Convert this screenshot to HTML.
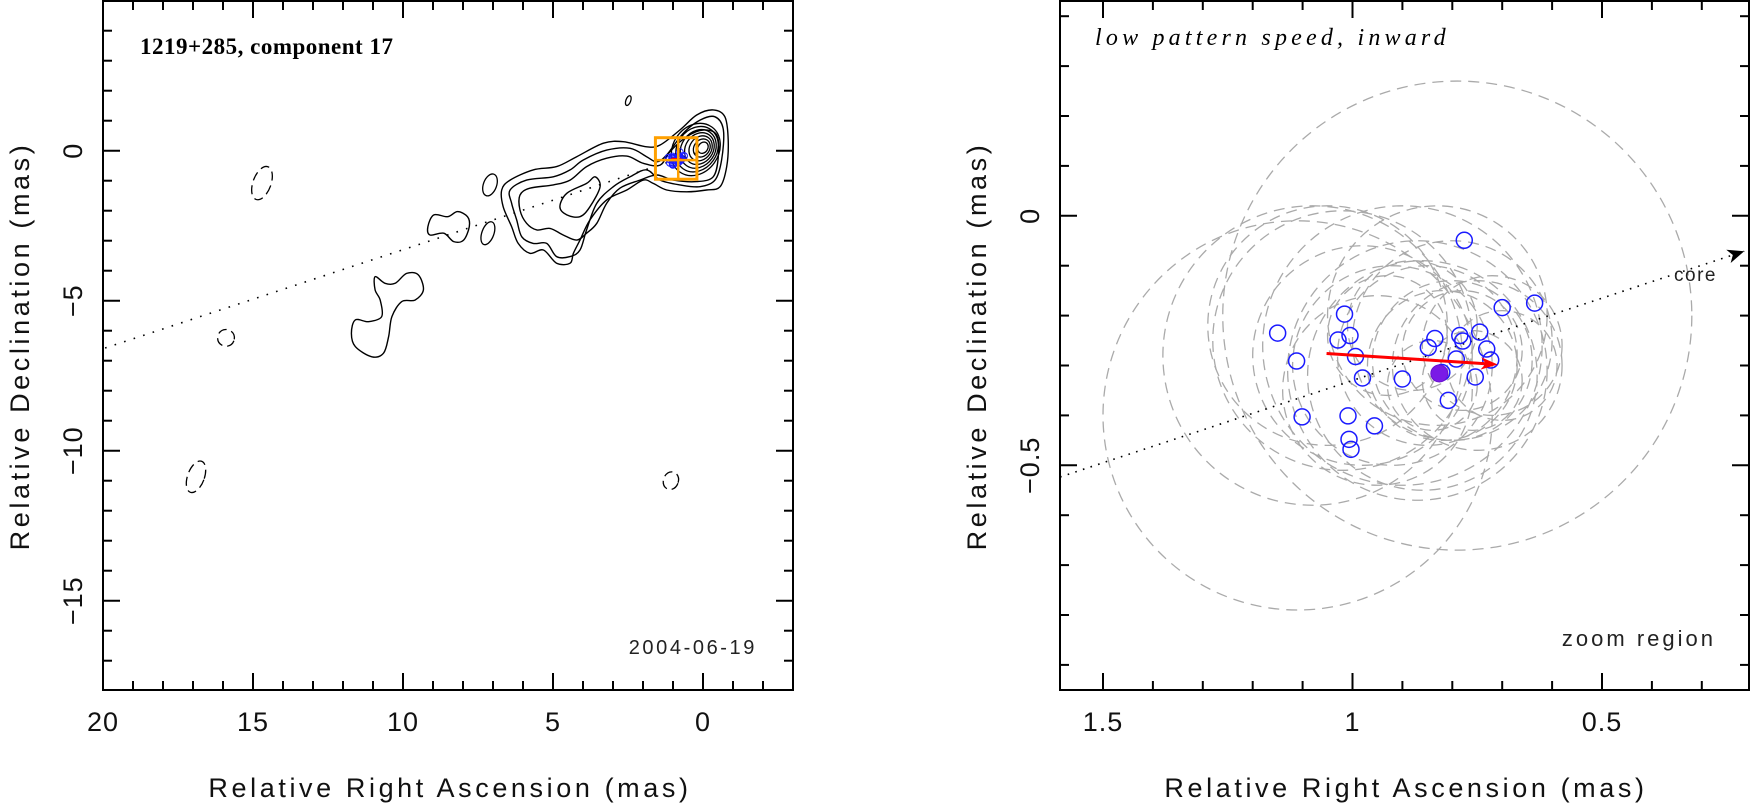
<!DOCTYPE html>
<html><head><meta charset="utf-8"><style>
html,body{margin:0;padding:0;background:#fff;}
svg{display:block;font-family:"Liberation Sans",sans-serif;}
</style></head><body>
<svg id="chart" width="1751" height="809" viewBox="0 0 1751 809" xmlns="http://www.w3.org/2000/svg">
<g id="left"></g>
<g id="right"></g>
</svg>
<script>
// ---------- data ----------
const jetSlope = -0.33;
const compRA = [1.150,1.112,1.101,1.029,1.016,1.005,0.994,0.980,1.009,1.007,1.003,0.956,0.900,0.848,0.835,0.821,0.808,0.792,0.779,0.776,0.745,0.731,0.754,0.723,0.700,0.635,0.785];
const compDec = [-0.235,-0.291,-0.403,-0.249,-0.197,-0.240,-0.282,-0.325,-0.401,-0.448,-0.468,-0.421,-0.327,-0.264,-0.246,-0.314,-0.370,-0.287,-0.251,-0.049,-0.233,-0.267,-0.323,-0.289,-0.184,-0.175,-0.240];
const meanPos = [0.826,-0.316];
const arrowStart = [1.052,-0.276];
const arrowEnd = [0.709,-0.298];
const errRA  = [0.79,1.11,1.08,1.02,0.98,1.05,0.92,0.85,0.82,0.78,0.80,0.75,0.86,0.88,0.76,0.83,0.95,0.72,0.90,0.84,0.80,0.93,0.70,0.87];
const errDec = [-0.20,-0.40,-0.28,-0.25,-0.28,-0.22,-0.30,-0.28,-0.30,-0.27,-0.25,-0.30,-0.32,-0.22,-0.33,-0.20,-0.35,-0.26,-0.26,-0.34,-0.29,-0.24,-0.30,-0.31];
const errR   = [0.47,0.39,0.30,0.26,0.22,0.24,0.20,0.18,0.15,0.12,0.20,0.17,0.23,0.13,0.10,0.22,0.19,0.14,0.28,0.09,0.16,0.12,0.11,0.26];
const contour1 = [[6.71,-1.31],[6.43,-0.98],[5.66,-0.64],[4.88,-0.53],[4.21,-0.20],[3.32,0.25],[2.66,0.30],[1.88,0.13],[1.43,0.19],[0.77,0.69],[0.21,1.19],[-0.34,1.36],[-0.73,1.13],[-0.84,0.36],[-0.79,-0.53],[-0.57,-1.20],[-0.12,-1.31],[0.54,-1.37],[1.21,-1.31],[1.66,-1.09],[1.99,-0.98],[2.54,-1.31],[3.21,-1.64],[3.77,-2.31],[4.10,-2.98],[4.32,-3.42],[4.43,-3.75],[4.88,-3.75],[5.32,-3.31],[5.77,-3.42],[6.16,-3.09],[6.38,-2.53],[6.66,-1.87]];
const contour2 = [[6.43,-1.31],[5.88,-0.98],[4.99,-0.87],[4.43,-0.64],[3.99,-0.31],[3.21,0.02],[2.43,0.08],[1.88,-0.20],[1.54,-0.37],[1.21,-0.14],[0.66,0.58],[0.10,1.02],[-0.40,1.13],[-0.68,0.69],[-0.62,-0.31],[-0.40,-0.98],[0.10,-1.20],[0.77,-1.14],[1.43,-0.98],[1.88,-0.64],[2.43,-0.87],[2.99,-1.20],[3.54,-1.75],[3.88,-2.64],[4.10,-3.31],[4.43,-3.53],[4.88,-3.53],[5.21,-3.09],[5.66,-3.09],[6.04,-2.87],[6.21,-2.31],[6.38,-1.75]];
const contour3 = [[6.10,-1.48],[5.77,-1.25],[4.99,-1.14],[4.43,-0.98],[3.88,-0.53],[3.21,-0.25],[2.54,-0.18],[1.99,-0.42],[1.43,-0.48],[1.10,-0.03],[0.54,0.47],[-0.01,0.69],[-0.46,0.52],[-0.51,-0.20],[-0.34,-0.87],[0.21,-1.03],[0.99,-0.98],[1.54,-0.81],[2.10,-0.98],[2.77,-1.25],[3.21,-1.75],[3.54,-2.42],[3.88,-2.75],[4.21,-2.98],[4.66,-2.81],[5.10,-2.59],[5.54,-2.64],[5.88,-2.42],[6.10,-1.98]];
const contour4 = [[4.77,-1.87],[4.54,-1.42],[3.88,-1.09],[3.60,-0.87],[3.43,-1.20],[3.77,-1.87],[4.10,-2.20],[4.54,-2.14]];
const blobA = [[9.17,-2.53],[8.97,-2.14],[8.51,-2.20],[8.18,-2.03],[7.85,-2.20],[7.79,-2.53],[7.98,-2.98],[8.31,-3.03],[8.64,-2.75],[9.10,-2.81]];
const blobB = [[10.93,-4.2],[10.6,-4.42],[10.26,-4.42],[9.88,-4.09],[9.49,-4.14],[9.32,-4.64],[9.6,-4.98],[10.04,-5.03],[10.37,-5.53],[10.48,-6.2],[10.65,-6.75],[11.04,-6.87],[11.59,-6.53],[11.72,-6.09],[11.59,-5.64],[11.15,-5.7],[10.71,-5.53],[10.76,-4.98],[10.93,-4.64]];
const coreLevels = [0,1,2,3,4,5,6];
const islandRA  = [2.49,7.1,7.17,14.7,15.9,16.9,1.07];
const islandDec = [1.67,-1.14,-2.75,-1.08,-6.24,-10.87,-11.0];
const islandRx  = [0.08,0.22,0.2,0.3,0.28,0.28,0.25];
const islandRy  = [0.17,0.38,0.4,0.58,0.28,0.55,0.3];
const islandNeg = [0,0,0,1,1,1,1];
const lXMajor = [20,15,10,5,0];
const lXLabels = ["20","15","10","5","0"];
const lYMajor = [0,-5,-10,-15];
const lYLabels = ["0","\u22125","\u221210","\u221215"];
const rXMajor = [1.5,1,0.5];
const rXLabels = ["1.5","1","0.5"];
const rYMajor = [0,-0.5];
const rYLabels = ["0","\u22120.5"];

// ---------- axes ----------
const L = {x0:103,x1:793,y0:1,y1:690};
const R = {x0:1060,x1:1749,y0:1,y1:690};
const lx = ra => 703 - 30*ra;
const ly = d => 150.7 - 30*d;
const rx = ra => 1103 + (1.5-ra)*499;
const ry = d => 215.8 - 499*d;

const NS="http://www.w3.org/2000/svg";
function mk(tag, attrs, parent){const e=document.createElementNS(NS,tag);for(const k in attrs)e.setAttribute(k,attrs[k]);parent.appendChild(e);return e;}
const gl=document.getElementById('left'), gr=document.getElementById('right');

function smooth(pts){
  const n=pts.length;let d=`M${pts[0][0]},${pts[0][1]}`;
  for(let i=0;i<n;i++){const p0=pts[(i-1+n)%n],p1=pts[i],p2=pts[(i+1)%n],p3=pts[(i+2)%n];
    d+=` C${p1[0]+(p2[0]-p0[0])/6},${p1[1]+(p2[1]-p0[1])/6} ${p2[0]-(p3[0]-p1[0])/6},${p2[1]-(p3[1]-p1[1])/6} ${p2[0]},${p2[1]}`;}
  return d+'Z';
}

// ---------- left panel ----------
[contour1,contour2,contour3,contour4,blobA,blobB].forEach((c,i)=>{
  const p=mk('path',{d:smooth(c.map(q=>[lx(q[0]),ly(q[1])])),fill:'none',stroke:'#000','stroke-width':1.4},gl);
  
  
});
coreLevels.forEach(i=>{
  const cx=lx(0.0+0.04*i), cy=ly(0.1-0.01*i);
  const e=mk('ellipse',{cx:cx,cy:cy,rx:30*(0.2+0.12*i),ry:30*(0.16+0.1*i),transform:`rotate(-55 ${cx} ${cy})`,fill:'none',stroke:'#000','stroke-width':1.3},gl);
  
  
});
islandRA.forEach((ra,i)=>{
  const e=mk('ellipse',{cx:lx(ra),cy:ly(islandDec[i]),rx:30*islandRx[i],ry:30*islandRy[i],transform:`rotate(20 ${lx(ra)} ${ly(islandDec[i])})`,fill:'none',stroke:'#000','stroke-width':1.3,'stroke-dasharray':islandNeg[i]?'9 5':'none'},gl);
  
  
});
{
  const ra0=19.93, ra1=0;
  const l=mk('line',{x1:lx(ra0),y1:ly(jetSlope*ra0),x2:lx(ra1),y2:ly(jetSlope*ra1),stroke:'#000','stroke-width':1.6,'stroke-dasharray':'1.6 8.4'},gl);
  
  
}
compRA.forEach((ra,i)=>{
  const c=mk('circle',{cx:lx(ra),cy:ly(compDec[i]),r:3.5,fill:'none',stroke:'#1a1aff','stroke-width':1},gl);
  
  
});
{
  const a=mk('line',{x1:lx(arrowStart[0]),y1:ly(arrowStart[1]),x2:lx(arrowEnd[0]),y2:ly(arrowEnd[1]),stroke:'#f00','stroke-width':2.5},gl);
  
  
  const bx=lx(1.586),by=ly(0.433),bw=lx(0.203)-lx(1.586),bh=ly(-0.951)-ly(0.433);
  const b=mk('rect',{x:bx,y:by,width:bw,height:bh,fill:'none',stroke:'#ffa000','stroke-width':3},gl);
  
  
  const h=mk('line',{x1:bx,y1:ly(meanPos[1]),x2:bx+bw,y2:ly(meanPos[1]),stroke:'#ffa000','stroke-width':2.5},gl);
  
  
  const v=mk('line',{x1:lx(meanPos[0]),y1:by,x2:lx(meanPos[0]),y2:by+bh,stroke:'#ffa000','stroke-width':2.5},gl);
  
  
}

// ---------- right panel ----------
const clip=mk('clipPath',{id:'rclip'},gr);
mk('rect',{x:R.x0,y:R.y0,width:R.x1-R.x0,height:R.y1-R.y0},clip);
const gdata=mk('g',{'clip-path':'url(#rclip)'},gr);


errRA.forEach((ra,i)=>{
  const c=mk('circle',{cx:rx(ra),cy:ry(errDec[i]),r:499*errR[i],fill:'none',stroke:'#aaa','stroke-width':1.3,'stroke-dasharray':'11 7'},gdata);
  
  
});
{
  const ra0=1.586, ra1=0.215;
  const l=mk('line',{x1:rx(ra0),y1:ry(jetSlope*ra0),x2:rx(ra1),y2:ry(jetSlope*ra1),stroke:'#000','stroke-width':1.6,'stroke-dasharray':'1.6 6.4'},gdata);
  
  
  const ex=rx(ra1), ey=ry(jetSlope*ra1), ang=Math.atan2(ey-ry(jetSlope*ra0), ex-rx(ra0));
  const p=[[ex,ey],[ex-18*Math.cos(ang-0.4),ey-18*Math.sin(ang-0.4)],[ex-12*Math.cos(ang),ey-12*Math.sin(ang)],[ex-18*Math.cos(ang+0.4),ey-18*Math.sin(ang+0.4)]];
  const h=mk('polygon',{points:p.map(q=>q.join(',')).join(' '),fill:'#000'},gdata);
  
  
}
compRA.forEach((ra,i)=>{
  const c=mk('circle',{cx:rx(ra),cy:ry(compDec[i]),r:8,fill:'none',stroke:'#1a1aff','stroke-width':1.5},gdata);
  
  
});
{
  const m=mk('circle',{cx:rx(meanPos[0]),cy:ry(meanPos[1]),r:8.5,fill:'#7a1ae6',stroke:'#6a10d0','stroke-width':1},gdata);
  
  
  const x1=rx(arrowStart[0]),y1=ry(arrowStart[1]),x2=rx(arrowEnd[0]),y2=ry(arrowEnd[1]);
  const ang=Math.atan2(y2-y1,x2-x1);
  const a=mk('line',{x1:x1,y1:y1,x2:x2-10*Math.cos(ang),y2:y2-10*Math.sin(ang),stroke:'#f00','stroke-width':3},gdata);
  
  
  const p=[[x2,y2],[x2-18*Math.cos(ang-0.35),y2-18*Math.sin(ang-0.35)],[x2-12*Math.cos(ang),y2-12*Math.sin(ang)],[x2-18*Math.cos(ang+0.35),y2-18*Math.sin(ang+0.35)]];
  const h=mk('polygon',{points:p.map(q=>q.join(',')).join(' '),fill:'#f00'},gdata);
  
  
}

// ---------- frames & ticks ----------
function frame(g,F,fx,fy,xMaj,xLab,yMaj,yLab,xMinStep,xMinA,xMinB,yMinStep,yMinA,yMinB){
  const r=mk('rect',{x:F.x0,y:F.y0,width:F.x1-F.x0,height:F.y1-F.y0,fill:'none',stroke:'#000','stroke-width':2},g);
  
  
  const nx=Math.round((xMinB-xMinA)/xMinStep);
  for(let i=0;i<=nx;i++){const v=xMinA+i*xMinStep;const X=fx(v);if(X<F.x0+1||X>F.x1-1)continue;
    const maj=xMaj.some(m=>Math.abs(m-v)<1e-6);const len=maj?17:9;
    const t1=mk('line',{x1:X,y1:F.y1,x2:X,y2:F.y1-len,stroke:'#000','stroke-width':2},g);
    
    
    const t2=mk('line',{x1:X,y1:F.y0,x2:X,y2:F.y0+len,stroke:'#000','stroke-width':2},g);
    
    }
  const ny=Math.round((yMinB-yMinA)/yMinStep);
  for(let i=0;i<=ny;i++){const v=yMinA+i*yMinStep;const Y=fy(v);if(Y<F.y0+1||Y>F.y1-1)continue;
    const maj=yMaj.some(m=>Math.abs(m-v)<1e-6);const len=maj?17:9;
    const t1=mk('line',{x1:F.x0,y1:Y,x2:F.x0+len,y2:Y,stroke:'#000','stroke-width':2},g);
    
    
    const t2=mk('line',{x1:F.x1,y1:Y,x2:F.x1-len,y2:Y,stroke:'#000','stroke-width':2},g);
    
    }
  xMaj.forEach((v,i)=>{const t=mk('text',{x:fx(v),y:731,'text-anchor':'middle','font-size':27,fill:'#111','letter-spacing':1},g);t.textContent=xLab[i];
    
    });
  yMaj.forEach((v,i)=>{const X=F.x0-21,Y=fy(v);const t=mk('text',{x:X,y:Y,'text-anchor':'middle','font-size':27,fill:'#111','letter-spacing':1,transform:`rotate(-90 ${X} ${Y})`},g);t.textContent=yLab[i];
    
    });
}
frame(gl,L,lx,ly,lXMajor,lXLabels,lYMajor,lYLabels,1,-3,20,1,-18,5);
frame(gr,R,rx,ry,rXMajor,rXLabels,rYMajor,rYLabels,0.1,0.2,1.6,0.1,-0.9,0.4);

function txt(g,name,s,attrs){const t=mk('text',attrs,g);t.textContent=s;return t;}
const AT={'font-size':27,fill:'#111','letter-spacing':3.6,'text-anchor':'middle'};
txt(gl,'x-axis-title','Relative Right Ascension (mas)',Object.assign({x:450,y:797},AT));
txt(gr,'x-axis-title','Relative Right Ascension (mas)',Object.assign({x:1406,y:797},AT));
txt(gl,'y-axis-title','Relative Declination (mas)',Object.assign({x:29,y:346,transform:'rotate(-90 29 346)'},AT));
txt(gr,'y-axis-title','Relative Declination (mas)',Object.assign({x:986,y:346,transform:'rotate(-90 986 346)'},AT));
txt(gl,'panel-title','1219+285, component 17',{x:140,y:54,'font-size':23,'font-weight':'bold','font-family':'"Liberation Serif",serif',fill:'#000','letter-spacing':0.5});
txt(gr,'panel-title','low pattern speed, inward',{x:1095,y:45,'font-size':24,'font-style':'italic','font-family':'"Liberation Serif",serif',fill:'#000','letter-spacing':4.2});
txt(gl,'epoch-label','2004-06-19',{x:757,y:654,'text-anchor':'end','font-size':20,fill:'#222','letter-spacing':2.6});
txt(gr,'zoom-region-label','zoom region',{x:1716,y:646,'text-anchor':'end','font-size':22,fill:'#222','letter-spacing':3});
txt(gr,'core-label','core',{x:1717,y:281,'text-anchor':'end','font-size':19,fill:'#222','letter-spacing':1.5});
</script>
</body></html>
